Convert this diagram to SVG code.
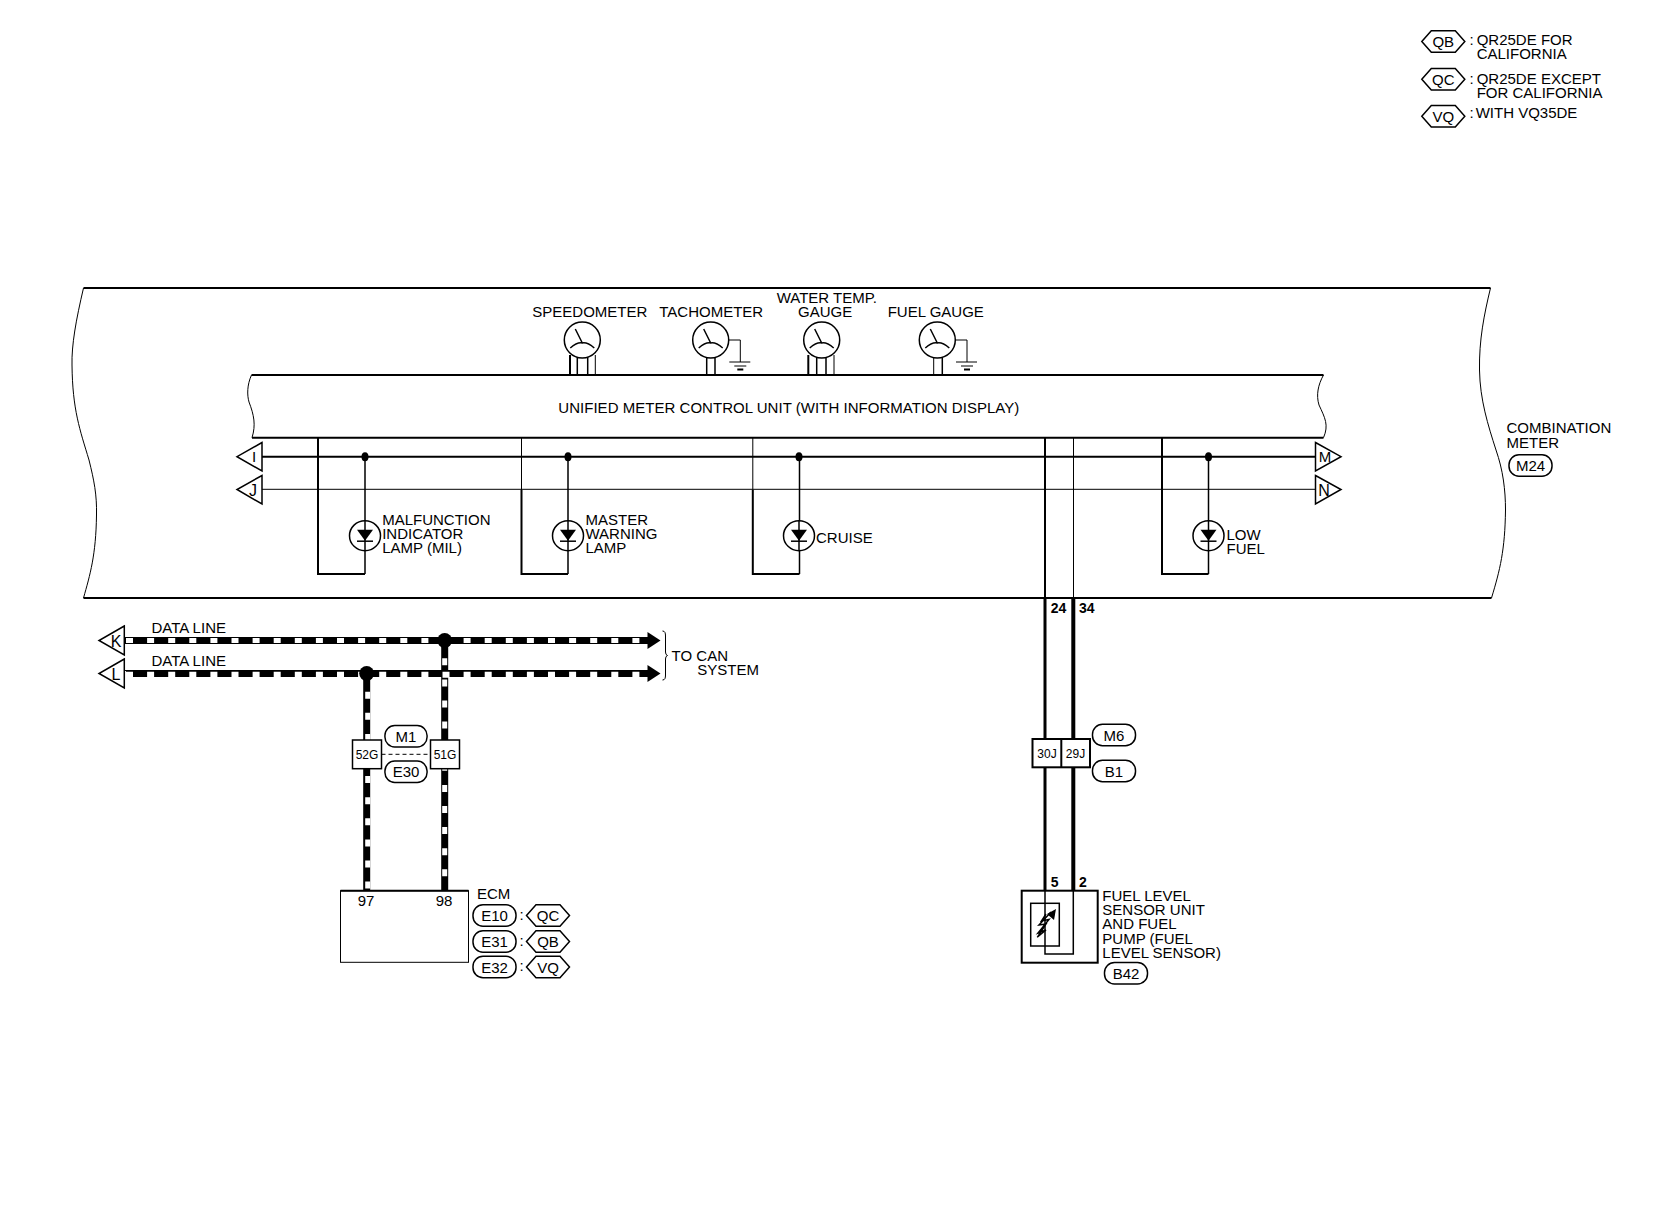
<svg xmlns="http://www.w3.org/2000/svg" width="1660" height="1216" viewBox="0 0 1660 1216">
<style>
text{font-family:"Liberation Sans",Arial,sans-serif;font-size:15px;fill:#000}
.s{font-size:12px}
.m{text-anchor:middle}
.b{font-weight:bold}
.l1,.l15,.l2,.l3{fill:none;stroke:#000}
.l1{stroke-width:1}.l15{stroke-width:1.5}.l2{stroke-width:2}.l3{stroke-width:3}
.w{fill:#fff;stroke:#000;stroke-width:1.5}
.tag{fill:#fff;stroke:#000;stroke-width:1.5}
.f{fill:#000;stroke:none}
.bk{fill:none;stroke:#000;stroke-width:7}
.wt{fill:none;stroke:#fff;stroke-width:5;stroke-dasharray:7 14.1}
.wtl{fill:none;stroke:#fff;stroke-width:6;stroke-dasharray:7 14.1}
</style>
<defs>
<g id="gauge"><circle r="18" class="w"/><path class="l15" d="M-7,-11L0,3M-12,8Q-5,2 0,3Q5,2 12,8"/></g>
<g id="gnd"><path class="l1" d="M0,0H12V22"/><path class="l1" d="M1,22H22M6,26H18"/><path class="l2" d="M9,29.500H15"/></g>
<g id="lamp"><ellipse rx="15.500" ry="15" class="w"/><path class="f" d="M-8,-6H8L0,5Z"/><path class="l15" d="M-8,5.500H8"/><path class="l15" d="M0,-15V15"/></g>
<path id="dot" class="f" d="M-3.500,0a3.500,4.500 0 1 0 7,0a3.500,4.500 0 1 0 -7,0Z"/>
<rect id="pill" x="-21.500" y="-10.700" width="43" height="21.400" rx="10" class="tag"/>
<path id="hex" class="tag" d="M-21.500,0L-12,-10.700H12L21.500,0L12,10.700H-12Z"/>
</defs>

<g id="combination-meter">
<path class="l2" fill="none" d="M83.500,288H1490.500"/>
<path class="l2" fill="none" d="M83.500,598H1491.500"/>
<path class="l1" fill="none" d="M83.500,288C76,320 71.500,345 72,365C72.500,410 80,430 89,460C94,480 97,495 96.500,515C96,555 90,575 83.500,598"/>
<path class="l1" fill="none" d="M1490.500,288C1484,315 1479,340 1479.500,370C1480,400 1488,425 1496,450C1503,470 1505.500,490 1505.500,510C1505,550 1500,570 1491.500,598"/>
<text x="1506.500" y="433">COMBINATION</text>
<text x="1506.500" y="447.700">METER</text>
<g transform="translate(1530.500,465.500)"><use href="#pill"/><text class="m" y="5.500">M24</text></g>
</g>

<g id="control-unit">
<path class="l2" fill="none" d="M251.500,375H1323.500M252,437.700H1323.500"/>
<path class="l1" fill="none" d="M251.500,375C247,385 247,395 249,402C254,415 256,425 252,437.700"/>
<path class="l1" fill="none" d="M1323.500,375C1318,385 1316,395 1319,405C1325,418 1329,425 1323.500,437.700"/>
<text x="558.300" y="413.300" textLength="461">UNIFIED METER CONTROL UNIT (WITH INFORMATION DISPLAY)</text>
</g>

<g id="gauges">
<g id="speedometer"><path class="l2" d="M570,355V375"/><path class="l15" d="M577.300,357V375M587.700,357V375"/><path class="l1" d="M595.300,355V375"/><use href="#gauge" x="582.300" y="340"/><text x="532.300" y="317.300">SPEEDOMETER</text></g>
<g id="tachometer"><path class="l15" d="M706.700,357V375M715,357V375"/><use href="#gauge" x="710.700" y="340"/><use href="#gnd" x="728.300" y="340"/><text x="659.300" y="317.300">TACHOMETER</text></g>
<g id="water-temp"><path class="l2" d="M808.300,355V375"/><path class="l15" d="M816.700,357V375M826,357V375"/><path class="l1" d="M834,355V375"/><use href="#gauge" x="821.700" y="340"/><text x="776.700" y="303.300">WATER TEMP.</text><text x="798" y="317.300">GAUGE</text></g>
<g id="fuel-gauge"><path class="l1" d="M933.700,357V375"/><path class="l15" d="M942.300,357V375"/><use href="#gauge" x="937.300" y="340"/><use href="#gnd" x="955" y="340"/><text x="887.700" y="317.300">FUEL GAUGE</text></g>
</g>

<g id="connectors">
<path class="l2" d="M262,456.700H1315.500"/>
<path class="l1" d="M262,489.300H1315.500"/>
<path class="l2" d="M318,438V574H365M1162,438V574H1208.500"/>
<path class="l1" d="M521.500,438V490"/><path class="l2" d="M521.500,490V574H568"/>
<path class="l1" d="M752.800,438V490"/><path class="l2" d="M752.800,490V574H799.500"/>
<path class="l15" d="M365,456.700V574M568,456.700V574M799.500,456.700V574M1208.500,456.700V574"/>
<path class="l2" d="M1045,438V598"/><path class="l1" d="M1073.500,438V598"/>
<path class="l3" d="M1045,598V891"/>
<path style="fill:none;stroke:#000;stroke-width:4" d="M1073.300,598V891"/>
<path class="l15" d="M1045,891V954H1073.300V891"/>

<path class="bk" d="M124,640.500H650"/>
<path class="wt" d="M126,640.500H648"/>
<path class="bk" d="M444.700,640V891"/>
<path class="wt" d="M444.700,658.300V891"/>
<path class="bk" d="M366.700,673.500V891"/>
<path class="wtl" style="stroke-width:5" d="M367.700,691.700V891"/>
<path class="l1" d="M124,670.500H650"/>
<path style="fill:none;stroke:#000;stroke-width:6.500" d="M126,673.700H650"/>
<path class="wtl" d="M126,674.700H648"/>
<path class="f" d="M647.500,632L660.500,640.500L647.500,649Z"/>
<path class="f" d="M647.500,665L660.500,673.500L647.500,682Z"/>
<circle class="f" cx="444.700" cy="640.500" r="7.500"/>
<circle class="f" cx="366.700" cy="673.500" r="7.500"/>
<path class="l1" stroke-dasharray="4 3" d="M381.500,754.300H430.500"/>
</g>

<g id="lamp-mil"><use href="#dot" x="365" y="456.700"/><use href="#lamp" x="365" y="535.700"/><text x="382.200" y="525">MALFUNCTION</text><text x="382.200" y="539.300">INDICATOR</text><text x="382.200" y="553.300">LAMP (MIL)</text></g>
<g id="lamp-master"><use href="#dot" x="568" y="456.700"/><use href="#lamp" x="568" y="535.700"/><text x="585.500" y="525">MASTER</text><text x="585.500" y="539.300">WARNING</text><text x="585.500" y="553.300">LAMP</text></g>
<g id="lamp-cruise"><use href="#dot" x="799" y="456.700"/><use href="#lamp" x="799" y="535.700"/><text x="816" y="543">CRUISE</text></g>
<g id="lamp-low-fuel"><use href="#dot" x="1208.500" y="456.700"/><use href="#lamp" x="1208.500" y="535.700"/><text x="1226.500" y="540">LOW</text><text x="1226.500" y="554.300">FUEL</text></g>

<g id="port-i"><path class="w" d="M262,442.500L237,456.700L262,471Z"/><text class="m" x="254" y="462">I</text></g>
<g id="port-j"><path class="w" d="M262,475.500L237,489.500L262,504Z"/><text class="m" x="253" y="495.500" style="font-size:16px">J</text></g>
<g id="port-m"><path class="w" d="M1315.500,442.500L1341,456.700L1315.500,471Z"/><text class="m" x="1325" y="462">M</text></g>
<g id="port-n"><path class="w" d="M1315.500,475.500L1341,489.500L1315.500,504Z"/><text class="m" x="1324" y="495.500" style="font-size:16px">N</text></g>
<g id="port-k"><path class="w" d="M124.300,626L99,640.500L124.300,655Z"/><text class="m" x="116" y="646.500" style="font-size:16px">K</text></g>
<g id="port-l"><path class="w" d="M124.300,659L99,673.500L124.300,688Z"/><text class="m" x="116" y="680" style="font-size:16px">L</text></g>

<g id="data-labels">
<text x="151.500" y="633.300">DATA LINE</text>
<text x="151.500" y="666">DATA LINE</text>
<path class="l1" d="M662.500,631C665,631 665.500,633 665.500,636V652Q665.500,655 667.500,655.500Q665.500,656 665.500,659V675C665.500,678 665,680 662.500,680"/>
<text x="671.600" y="660.700">TO CAN</text>
<text x="697.300" y="675">SYSTEM</text>
</g>

<g id="junction-52g"><rect x="352.500" y="740" width="29" height="28.700" class="w"/><text class="s m" x="367" y="759">52G</text></g>
<g id="junction-51g"><rect x="430.500" y="740" width="29" height="28.700" class="w"/><text class="s m" x="445" y="759">51G</text></g>
<g id="tag-m1"><use href="#pill" transform="translate(406,736.200) scale(.98,1)"/><text class="m" x="406" y="741.500">M1</text></g>
<g id="tag-e30"><use href="#pill" transform="translate(406,771.700) scale(.98,1)"/><text class="m" x="406" y="777">E30</text></g>

<g id="ecm">
<rect x="340.500" y="890.700" width="128" height="71.600" fill="#fff" stroke="#000" stroke-width="1"/>
<path class="l2" d="M340.500,890.700H468.500"/>
<text class="m" x="366" y="906">97</text>
<text class="m" x="444" y="906">98</text>
<text x="477" y="899">ECM</text>
<g transform="translate(494.500,915.500)"><use href="#pill"/><text class="m" y="5.500">E10</text></g>
<g transform="translate(494.500,941.500)"><use href="#pill"/><text class="m" y="5.500">E31</text></g>
<g transform="translate(494.500,967)"><use href="#pill"/><text class="m" y="5.500">E32</text></g>
<text x="519.500" y="920">:</text><text x="519.500" y="946">:</text><text x="519.500" y="971">:</text>
<g transform="translate(548,915.500)"><use href="#hex"/><text class="m" y="5.500">QC</text></g>
<g transform="translate(548,941.500)"><use href="#hex"/><text class="m" y="5.500">QB</text></g>
<g transform="translate(548,967)"><use href="#hex"/><text class="m" y="5.500">VQ</text></g>
</g>

<g id="pin-labels">
<text class="b" x="1050.700" y="612.700" style="font-size:14px">24</text>
<text class="b" x="1079" y="612.700" style="font-size:14px">34</text>
<text class="b" x="1050.700" y="886.700" style="font-size:14px">5</text>
<text class="b" x="1079" y="886.700" style="font-size:14px">2</text>
</g>

<g id="junction-30j-29j">
<rect x="1032.500" y="739" width="57.500" height="28.300" fill="#fff" stroke="#000" stroke-width="2"/>
<path class="l2" d="M1061.300,739V767.300"/>
<text class="s m" x="1047" y="758">30J</text>
<text class="s m" x="1075.500" y="758">29J</text>
<g transform="translate(1114,735)"><use href="#pill"/><text class="m" y="5.500">M6</text></g>
<g transform="translate(1114,771)"><use href="#pill"/><text class="m" y="5.500">B1</text></g>
</g>

<g id="fuel-level-sensor">
<rect x="1021.700" y="890.700" width="76" height="72" fill="none" stroke="#000" stroke-width="2"/>
<rect x="1030.700" y="903.300" width="28.600" height="42.700" fill="none" stroke="#000" stroke-width="1.500"/>
<path class="l15" d="M1037.300,937.300L1046,924L1039,925L1051,912M1046,914L1041.500,921L1049,919.500L1038,933L1046,930L1037.500,937"/>
<path class="f" d="M1056,909L1054,920L1047,914Z"/>
<text x="1102.300" y="900.700">FUEL LEVEL</text>
<text x="1102.300" y="915">SENSOR UNIT</text>
<text x="1102.300" y="929.300">AND FUEL</text>
<text x="1102.300" y="943.700">PUMP (FUEL</text>
<text x="1102.300" y="958">LEVEL SENSOR)</text>
<g transform="translate(1126,973.300)"><use href="#pill"/><text class="m" y="5.500">B42</text></g>
</g>

<g id="legend">
<g transform="translate(1443.300,41.500)"><use href="#hex"/><text class="m" y="5.500">QB</text></g>
<text x="1469.500" y="45">:</text>
<text x="1476.700" y="45">QR25DE FOR</text>
<text x="1476.700" y="59.300">CALIFORNIA</text>
<g transform="translate(1443.300,79.200)"><use href="#hex"/><text class="m" y="5.500">QC</text></g>
<text x="1469.500" y="84">:</text>
<text x="1476.700" y="84">QR25DE EXCEPT</text>
<text x="1476.700" y="98.300">FOR CALIFORNIA</text>
<g transform="translate(1443.300,116.200)"><use href="#hex"/><text class="m" y="5.500">VQ</text></g>
<text x="1469.500" y="118.300">:</text>
<text x="1475.700" y="118.300">WITH VQ35DE</text>
</g>
</svg>
